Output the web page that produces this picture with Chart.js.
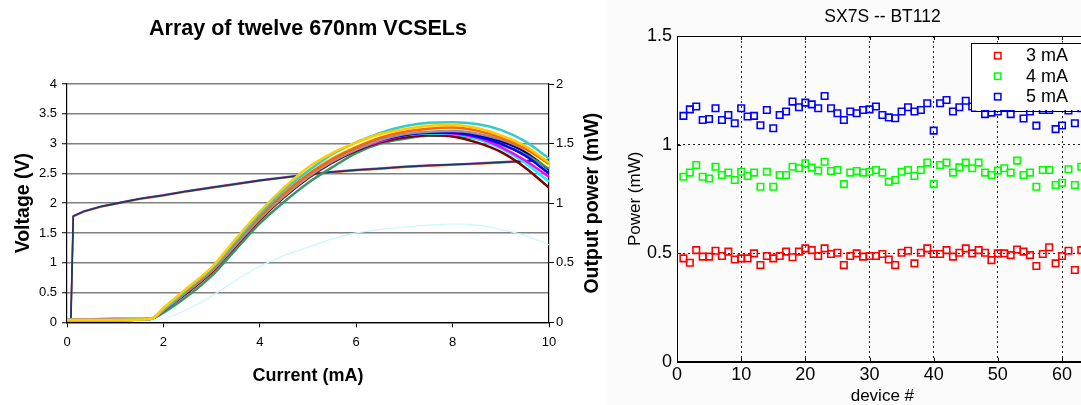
<!DOCTYPE html>
<html><head><meta charset="utf-8">
<script src="https://cdn.jsdelivr.net/npm/chart.js@4.4.1/dist/chart.umd.min.js"></script>
<style>
html,body{margin:0;padding:0;background:#fff;overflow:hidden;width:1081px;height:405px;}
#left{position:absolute;left:0;top:0;width:606px;height:405px;}
#right{position:absolute;left:606px;top:0;width:553px;height:405px;}
</style></head><body>
<canvas id="left" width="606" height="405"></canvas>
<canvas id="right" width="553" height="405"></canvas>
<script>
// ---------- Left chart data (Array of twelve 670nm VCSELs) ----------
const LEFT_TITLE = 'Array of twelve 670nm VCSELs';
const X_TITLE_L = 'Current (mA)';
const Y_TITLE_L = 'Voltage (V)';
const Y1_TITLE_L = 'Output power (mW)';

const currentMA = [0, 1, 1.75, 2, 2.5, 3, 3.5, 4, 4.5, 5, 5.5, 6, 6.5, 7, 7.5, 8, 8.5, 9, 9.5, 10];
const pGold     = [0.02,0.02,0.03,0.12,0.29,0.46,0.70,0.93,1.13,1.30,1.42,1.51,1.58,1.62,1.65,1.655,1.63,1.57,1.48,1.34];
const pTurq     = [0.02,0.02,0.03,0.11,0.28,0.45,0.68,0.91,1.11,1.27,1.41,1.51,1.59,1.645,1.675,1.68,1.665,1.615,1.52,1.375];
const pOrange   = [0.02,0.02,0.03,0.11,0.27,0.44,0.67,0.89,1.08,1.24,1.37,1.47,1.55,1.60,1.625,1.635,1.61,1.55,1.46,1.33];
const pLtYellow = [0.02,0.02,0.03,0.12,0.28,0.45,0.69,0.92,1.12,1.28,1.40,1.49,1.56,1.61,1.635,1.64,1.615,1.56,1.46,1.31];
const pPeach    = [0.02,0.02,0.03,0.11,0.28,0.45,0.68,0.90,1.10,1.26,1.39,1.48,1.56,1.61,1.63,1.635,1.61,1.56,1.47,1.32];
const pGray     = [0.02,0.02,0.03,0.10,0.26,0.43,0.65,0.87,1.06,1.22,1.35,1.45,1.53,1.58,1.60,1.605,1.585,1.535,1.45,1.31];
const pBlue     = [0.02,0.02,0.03,0.10,0.26,0.44,0.66,0.88,1.07,1.23,1.36,1.46,1.53,1.57,1.59,1.59,1.56,1.50,1.40,1.25];
const pMagenta  = [0.02,0.03,0.03,0.10,0.26,0.43,0.65,0.87,1.06,1.22,1.35,1.45,1.52,1.57,1.59,1.585,1.55,1.47,1.36,1.22];
const pCyan     = [0.02,0.02,0.03,0.11,0.27,0.45,0.67,0.89,1.08,1.24,1.37,1.46,1.53,1.57,1.585,1.58,1.54,1.46,1.34,1.18];
const pDarkRed  = [0.02,0.02,0.03,0.10,0.25,0.42,0.64,0.86,1.05,1.21,1.34,1.44,1.51,1.55,1.57,1.56,1.51,1.43,1.30,1.13];
const pSeaGreen = [0.02,0.02,0.03,0.08,0.22,0.39,0.61,0.83,1.01,1.17,1.30,1.42,1.50,1.54,1.565,1.565,1.54,1.49,1.41,1.29];
const pNavy     = [0.02,0.02,0.03,0.10,0.26,0.43,0.65,0.87,1.06,1.22,1.35,1.45,1.53,1.57,1.595,1.595,1.57,1.52,1.43,1.28];
const pDim      = [0.01,0.01,0.015,0.03,0.11,0.22,0.35,0.47,0.56,0.63,0.70,0.75,0.78,0.80,0.815,0.825,0.815,0.78,0.73,0.65];

const vCurrentMA = [0,0.08,0.13,0.35,0.7,1,1.5,2,2.5,3,3.5,4,4.5,5,5.5,6,6.5,7,7.5,8,8.5,9,9.5,10];
const voltMain = [0.02,0.02,1.78,1.86,1.94,1.99,2.07,2.13,2.20,2.26,2.32,2.38,2.43,2.48,2.52,2.555,2.58,2.61,2.63,2.645,2.665,2.685,2.705,2.72];
const voltHigh = [0.03,0.03,1.79,1.87,1.95,2.00,2.08,2.14,2.21,2.27,2.33,2.39,2.44,2.49,2.53,2.565,2.59,2.62,2.64,2.655,2.675,2.695,2.715,2.73];
const voltLow  = [0.01,0.01,1.77,1.85,1.93,1.98,2.06,2.12,2.19,2.25,2.31,2.37,2.42,2.47,2.51,2.545,2.57,2.60,2.62,2.635,2.655,2.675,2.695,2.71];

const voltTicks = [0,0.5,1,1.5,2,2.5,3,3.5,4];
const powerTicksL = [0,0.5,1,1.5,2];

// ---------- Right chart data (SX7S -- BT112) ----------
const RIGHT_TITLE = 'SX7S -- BT112';
const X_TITLE_R = 'device #';
const Y_TITLE_R = 'Power (mW)';
const seriesLabels = ['3 mA', '4 mA', '5 mA'];
const deviceNo = [1,2,3,4,5,6,7,8,9,10,11,12,13,14,15,16,17,18,19,20,21,22,23,24,25,26,27,28,29,30,31,32,33,34,35,36,37,38,39,40,41,42,43,44,45,46,47,48,49,50,51,52,53,54,55,56,57,58,59,60,61,62,63];
const power3mA = [0.476,0.456,0.514,0.484,0.484,0.511,0.487,0.507,0.471,0.476,
  0.476,0.499,0.445,0.487,0.476,0.487,0.507,0.481,0.507,0.522,
  0.514,0.487,0.522,0.496,0.502,0.445,0.487,0.499,0.484,0.487,
  0.487,0.496,0.471,0.445,0.502,0.511,0.453,0.502,0.522,0.496,
  0.496,0.514,0.484,0.502,0.522,0.499,0.514,0.502,0.468,0.499,
  0.499,0.491,0.517,0.507,0.491,0.441,0.496,0.527,0.453,0.487,
  0.511,0.422,0.514];
const power4mA = [0.852,0.871,0.906,0.852,0.844,0.898,0.860,0.871,0.837,0.875,
  0.855,0.871,0.806,0.875,0.806,0.860,0.860,0.898,0.891,0.914,
  0.894,0.880,0.921,0.878,0.883,0.818,0.871,0.878,0.871,0.875,
  0.883,0.871,0.829,0.837,0.875,0.883,0.855,0.883,0.917,0.818,
  0.906,0.917,0.871,0.895,0.917,0.891,0.917,0.871,0.860,0.880,
  0.891,0.871,0.926,0.860,0.871,0.806,0.883,0.883,0.814,0.824,
  0.886,0.814,0.898];
const power5mA = [1.132,1.162,1.175,1.113,1.118,1.167,1.113,1.136,1.098,1.167,
  1.129,1.132,1.089,1.159,1.075,1.136,1.152,1.198,1.172,1.193,
  1.185,1.167,1.224,1.167,1.144,1.113,1.152,1.144,1.159,1.162,
  1.175,1.136,1.125,1.121,1.152,1.172,1.152,1.159,1.190,1.064,
  1.190,1.205,1.152,1.172,1.202,1.175,1.200,1.140,1.147,1.152,
  1.170,1.140,1.190,1.120,1.152,1.087,1.159,1.159,1.071,1.088,
  1.157,1.098,1.167];
const deviceTicks = [0,10,20,30,40,50,60];
const powerTicksR = [0,0.5,1,1.5];

// ---------- helpers ----------
const FONT = "'Liberation Sans', Arial, Helvetica, sans-serif";
Chart.defaults.font.family = FONT;
Chart.defaults.color = '#000';
const pts = (xs, ys) => xs.map((x, i) => ({x: x, y: ys[i]}));
const plainLabel = (v) => String(v);

// ---------- Left chart ----------
const powerSeries = [
  ['#FFCC00', pGold], ['#33CCCC', pTurq], ['#FF6600', pOrange], ['#FFFF99', pLtYellow],
  ['#FFCC99', pPeach], ['#969696', pGray], ['#0000FF', pBlue], ['#FF00FF', pMagenta],
  ['#00FFFF', pCyan], ['#800000', pDarkRed], ['#339966', pSeaGreen], ['#000080', pNavy]
];
const leftDatasets = [];
powerSeries.forEach(([c, vals], i) => leftDatasets.push({
  label: 'P' + (i + 1), data: pts(currentMA, vals), yAxisID: 'y1',
  borderColor: c, borderWidth: 2.5, pointRadius: 0, fill: false, cubicInterpolationMode: 'monotone'
}));
leftDatasets.push({label:'V main', data: pts(vCurrentMA, voltMain), yAxisID:'y', borderColor:'#1c3b63', borderWidth:1.8, pointRadius:0, fill:false, tension:0});
leftDatasets.push({label:'V high', data: pts(vCurrentMA, voltHigh), yAxisID:'y', borderColor:'#b040c0', borderWidth:1.5, pointRadius:0, fill:false, tension:0});
leftDatasets.push({label:'V low', data: pts(vCurrentMA, voltLow), yAxisID:'y', borderColor:'#ff9933', borderWidth:1.5, pointRadius:0, fill:false, tension:0});
leftDatasets.push({label:'P dim', data: pts(currentMA, pDim), yAxisID:'y1', borderColor:'#c4fafa', borderWidth:1.2, pointRadius:0, fill:false, cubicInterpolationMode:'monotone'});

const whiteBg = (col) => ({
  id: 'bg',
  beforeDraw(chart) {
    const ctx = chart.ctx; ctx.save(); ctx.fillStyle = col;
    ctx.fillRect(0, 0, chart.width, chart.height); ctx.restore();
  }
});

const rightTitlePlugin = {
  id: 'rightTitle',
  afterDraw(chart) {
    const ctx = chart.ctx, ca = chart.chartArea;
    ctx.save();
    ctx.font = 'bold 19.5px ' + FONT; ctx.fillStyle = '#000';
    ctx.translate(597.5, (ca.top + ca.bottom) / 2);
    ctx.rotate(-Math.PI / 2);
    ctx.textAlign = 'center'; ctx.textBaseline = 'alphabetic';
    ctx.fillText(Y1_TITLE_L, 0, 0);
    ctx.restore();
  }
};

new Chart(document.getElementById('left'), {
  type: 'line',
  data: { datasets: leftDatasets },
  options: {
    responsive: false, animation: false, devicePixelRatio: 1,
    layout: { padding: { left: 10, right: 0, top: 0, bottom: 0 } },
    plugins: {
      legend: { display: false }, tooltip: { enabled: false },
      title: { display: true, text: LEFT_TITLE, color: '#000',
        font: { size: 21.5, weight: 'bold', lineHeight: 1.2 }, padding: { top: 16, bottom: 42.2 } }
    },
    scales: {
      x: {
        type: 'linear', min: 0, max: 10,
        ticks: { stepSize: 2, font: { size: 13 }, color: '#000', padding: 7, callback: plainLabel },
        grid: { drawOnChartArea: false, drawTicks: true, tickLength: 5, tickColor: '#000', tickWidth: 1 },
        border: { color: '#000', width: 1.2 },
        title: { display: true, text: X_TITLE_L, color: '#000', font: { size: 18, weight: 'bold', lineHeight: 1 }, padding: { top: 0, bottom: 20 } },
        afterFit(s) { s.height = 82.7; }
      },
      y: {
        type: 'linear', position: 'left', min: 0, max: 4,
        afterBuildTicks(s) { s.ticks = voltTicks.map(v => ({ value: v })); },
        ticks: { font: { size: 13 }, color: '#000', padding: 5, callback: plainLabel },
        grid: { color: '#808080', lineWidth: 1.5, tickLength: 5, tickColor: '#000', tickWidth: 1 },
        border: { color: '#000', width: 1.2 },
        title: { display: true, text: Y_TITLE_L, color: '#000', font: { size: 19.5, weight: 'bold', lineHeight: 1 }, padding: { top: 3.5, bottom: 0 } },
        afterFit(s) { s.width = 57; }
      },
      y1: {
        type: 'linear', position: 'right', min: 0, max: 2,
        afterBuildTicks(s) { s.ticks = powerTicksL.map(v => ({ value: v })); },
        ticks: { font: { size: 13 }, color: '#000', padding: 2, callback: plainLabel },
        grid: { drawOnChartArea: false, tickLength: 5, tickColor: '#000', tickWidth: 1 },
        border: { color: '#000', width: 1.2 },
        afterFit(s) { s.width = 57; }
      }
    }
  },
  plugins: [whiteBg('#ffffff'), rightTitlePlugin]
});

// ---------- Right chart ----------
const framePlugin = {
  id: 'frame',
  beforeDatasetsDraw(chart) {
    const ctx = chart.ctx, ca = chart.chartArea;
    const xs = chart.scales.x, ys = chart.scales.y;
    ctx.save();
    ctx.strokeStyle = '#000'; ctx.lineWidth = 1;
    ctx.strokeRect(Math.round(ca.left) + 0.5, Math.round(ca.top) + 0.5,
      Math.round(ca.right - ca.left), Math.round(ca.bottom - ca.top));
    ctx.beginPath();
    deviceTicks.forEach(v => {
      const px = Math.round(xs.getPixelForValue(v)) + 0.5;
      ctx.moveTo(px, ca.bottom); ctx.lineTo(px, ca.bottom - 4);
      ctx.moveTo(px, ca.top); ctx.lineTo(px, ca.top + 4);
    });
    powerTicksR.forEach(v => {
      const py = Math.round(ys.getPixelForValue(v)) + 0.5;
      ctx.moveTo(ca.left, py); ctx.lineTo(ca.left + 4, py);
      ctx.moveTo(ca.right, py); ctx.lineTo(ca.right - 4, py);
    });
    ctx.stroke();
    ctx.restore();
  }
};

const boxLegendPlugin = {
  id: 'boxLegend',
  afterDraw(chart) {
    const ctx = chart.ctx, ca = chart.chartArea;
    const left = 365, top = 42.5, right = ca.right - 4, bottom = 110;
    ctx.save();
    ctx.fillStyle = '#ffffff';
    ctx.fillRect(left, top, right - left, bottom - top);
    ctx.strokeStyle = '#000'; ctx.lineWidth = 1;
    ctx.strokeRect(Math.round(left) + 0.5, Math.round(top) + 0.5, Math.round(right - left), Math.round(bottom - top));
    const rowY = [55.7, 76.2, 96.7];
    chart.data.datasets.forEach((ds, i) => {
      const y = rowY[i];
      ctx.strokeStyle = ds.borderColor; ctx.lineWidth = 1.5;
      ctx.strokeRect(391.7 - 3.2, y - 3.2, 6.4, 6.4);
      ctx.fillStyle = '#000'; ctx.font = '18px ' + FONT;
      ctx.textAlign = 'left'; ctx.textBaseline = 'middle';
      ctx.fillText(ds.label, 420, y + 0.5);
    });
    ctx.restore();
  }
};

const markerStyle = (c) => ({
  borderColor: c, backgroundColor: 'rgba(0,0,0,0)', pointStyle: 'rect',
  pointRadius: 4.6, pointBorderWidth: 1.6, showLine: false
});

new Chart(document.getElementById('right'), {
  type: 'scatter',
  data: {
    datasets: [
      Object.assign({ label: seriesLabels[0], data: pts(deviceNo, power3mA) }, markerStyle('#ff0000')),
      Object.assign({ label: seriesLabels[1], data: pts(deviceNo, power4mA) }, markerStyle('#00ff00')),
      Object.assign({ label: seriesLabels[2], data: pts(deviceNo, power5mA) }, markerStyle('#0000ff'))
    ]
  },
  options: {
    responsive: false, animation: false, devicePixelRatio: 1,
    layout: { padding: 0 },
    plugins: {
      legend: { display: false }, tooltip: { enabled: false },
      title: { display: true, text: RIGHT_TITLE, color: '#000',
        font: { size: 17.5, weight: 'normal', lineHeight: 1.2 }, padding: { top: 6.2, bottom: 8.8 } }
    },
    scales: {
      x: {
        type: 'linear', position: 'bottom', min: 0, max: 64,
        afterBuildTicks(s) { s.ticks = deviceTicks.map(v => ({ value: v })); },
        ticks: { font: { size: 18 }, color: '#000', padding: 3, callback: plainLabel },
        grid: { color: '#222', lineWidth: 1, drawTicks: false },
        border: { color: '#000', width: 1, dash: [2, 3] },
        title: { display: true, text: X_TITLE_R, color: '#000', font: { size: 17, lineHeight: 1 }, padding: { top: 0, bottom: 0 } },
        afterFit(s) { s.height = 43.3; }
      },
      y: {
        type: 'linear', position: 'left', min: 0, max: 1.5,
        afterBuildTicks(s) { s.ticks = powerTicksR.map(v => ({ value: v })); },
        ticks: { font: { size: 18 }, color: '#000', padding: 5, callback: plainLabel },
        grid: { color: '#222', lineWidth: 1, drawTicks: false },
        border: { color: '#000', width: 1, dash: [2, 3] },
        title: { display: true, text: Y_TITLE_R, color: '#000', font: { size: 17, lineHeight: 1 }, padding: { top: 20.5, bottom: 0 } },
        afterFit(s) { s.width = 71; }
      },
      yR: {
        type: 'linear', position: 'right', display: true,
        ticks: { display: false }, grid: { display: false }, border: { display: false },
        afterFit(s) { s.width = 71.3; }
      }
    }
  },
  plugins: [whiteBg('#fbfbfb'), framePlugin, boxLegendPlugin]
});
</script>
</body></html>
